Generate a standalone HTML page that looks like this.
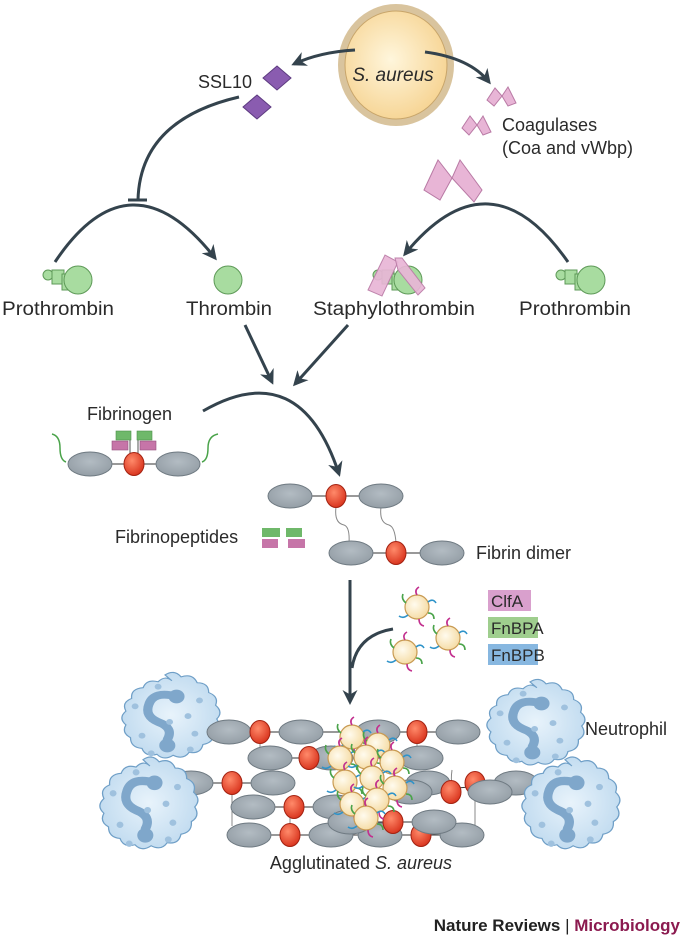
<!DOCTYPE html>
<html><head><meta charset="utf-8"><style>
html,body{margin:0;padding:0;background:#fff;}
svg{display:block;}
text{font-family:"Liberation Sans",sans-serif;fill:#2a2a2a;}
</style></head><body>
<svg width="685" height="941" viewBox="0 0 685 941" xmlns="http://www.w3.org/2000/svg">
<defs>
<radialGradient id="sa" cx="0.45" cy="0.45" r="0.6"><stop offset="0" stop-color="#fff6dc"/><stop offset="1" stop-color="#f6d391"/></radialGradient>
<radialGradient id="red" cx="0.4" cy="0.35" r="0.7"><stop offset="0" stop-color="#ff8a6a"/><stop offset="1" stop-color="#d7301a"/></radialGradient>
<radialGradient id="grey" cx="0.5" cy="0.4" r="0.7"><stop offset="0" stop-color="#b3bcc3"/><stop offset="1" stop-color="#8f99a1"/></radialGradient>
<radialGradient id="neu" cx="0.5" cy="0.5" r="0.6"><stop offset="0" stop-color="#e8f3fb"/><stop offset="1" stop-color="#bcd8ee"/></radialGradient>
<radialGradient id="ball" cx="0.4" cy="0.4" r="0.7"><stop offset="0" stop-color="#fffbee"/><stop offset="1" stop-color="#f4d89c"/></radialGradient>
<marker id="ah" viewBox="0 0 10 10" refX="8" refY="5" markerWidth="5" markerHeight="5" orient="auto"><path d="M0,0 L10,5 L0,10 L3,5 z" fill="#34434d"/></marker>
<g id="ell"><ellipse rx="22" ry="12" fill="url(#grey)" stroke="#6f7a82" stroke-width="1"/></g>
<g id="rd"><ellipse rx="10" ry="11.5" fill="url(#red)" stroke="#a42312" stroke-width="1"/></g>
<g id="b"><circle r="12" fill="url(#ball)" stroke="#c89a52" stroke-width="1.2"/></g>
<g id="bh">
<circle r="12" fill="url(#ball)" stroke="#c89a52" stroke-width="1.2"/>
<path d="M0,-12 q-3,-5 2,-8" stroke="#c2308e" stroke-width="1.6" fill="none"/>
<path d="M11,-5 q5,-4 8,1" stroke="#2e93c9" stroke-width="1.6" fill="none"/>
<path d="M11,6 q6,0 6,6" stroke="#4aa34a" stroke-width="1.6" fill="none"/>
<path d="M2,12 q0,6 5,7" stroke="#c2308e" stroke-width="1.6" fill="none"/>
<path d="M-9,8 q-5,4 -9,1" stroke="#2e93c9" stroke-width="1.6" fill="none"/>
<path d="M-11,-4 q-5,-4 -3,-9" stroke="#4aa34a" stroke-width="1.6" fill="none"/>
</g>
<g id="pro">
<circle cx="-22" cy="-5" r="5" fill="#a8dca0" stroke="#5e9a58"/>
<rect x="-18" y="-10" width="12" height="14" fill="#a8dca0" stroke="#5e9a58"/>
<rect x="-8" y="-6" width="12" height="16" fill="#a8dca0" stroke="#5e9a58"/>
<circle cx="8" cy="0" r="14" fill="#a8dca0" stroke="#5e9a58"/>
</g>
<g id="neut">
<path d="M0,-46 q8,-6 14,2 q10,-4 14,6 q10,0 10,10 q9,4 6,13 q7,7 1,14 q5,9 -3,14 q1,10 -9,12 q-2,10 -12,8 q-5,8 -14,3 q-8,6 -14,-1 q-10,3 -13,-6 q-10,-1 -10,-11 q-8,-5 -4,-13 q-7,-7 0,-14 q-4,-9 5,-13 q-1,-10 10,-11 q3,-9 13,-6 q6,-7 12,-1z" fill="url(#neu)" stroke="#6f9fc7" stroke-width="1.1"/>
<path d="M10,-24 q-20,-6 -24,8 q-4,12 8,18 q14,6 8,18" stroke="#7fa7cb" stroke-width="8" fill="none" stroke-linecap="round"/>
<circle cx="10" cy="-24" r="7" fill="#7fa7cb"/><circle cx="2" cy="26" r="7" fill="#7fa7cb"/>
<g fill="#9fc1de"><circle cx="-26" cy="-14" r="3"/><circle cx="-20" cy="16" r="3"/><circle cx="20" cy="-4" r="3"/><circle cx="26" cy="14" r="3"/><circle cx="-6" cy="-34" r="3"/><circle cx="22" cy="30" r="3"/><circle cx="-12" cy="34" r="3"/><circle cx="4" cy="2" r="3"/><circle cx="30" cy="-20" r="3"/></g>
</g>
</defs>

<ellipse cx="396" cy="65" rx="58" ry="61" fill="#d9c49e"/>
<ellipse cx="396" cy="65" rx="51" ry="54" fill="url(#sa)" stroke="#c8a56a" stroke-width="1"/>
<text x="393" y="81" font-size="19" font-style="italic" text-anchor="middle">S. aureus</text>

<path d="M355,50 Q320,52 294,64" stroke="#34434d" stroke-width="3" fill="none" marker-end="url(#ah)"/>
<path d="M425,52 Q470,58 489,82" stroke="#34434d" stroke-width="3" fill="none" marker-end="url(#ah)"/>

<text x="198" y="88" font-size="18">SSL10</text>
<path d="M277,66 L291,78 L277,90 L263,78z" fill="#8a5cb0" stroke="#5d3b80"/>
<path d="M257,95 L271,107 L257,119 L243,107z" fill="#8a5cb0" stroke="#5d3b80"/>

<g fill="#e8b5d6" stroke="#b97aa5" stroke-width="1">
<path d="M487,100 L495,88 L502,96 L494,106z"/><path d="M502,96 L508,87 L516,103 L508,106z"/>
<path d="M462,128 L470,116 L477,125 L469,135z"/><path d="M477,125 L483,116 L491,132 L483,135z"/>
<path d="M424,190 L438,160 L452,178 L440,200z"/><path d="M452,178 L460,160 L482,190 L474,202z"/>
</g>
<text x="502" y="131" font-size="18">Coagulases</text>
<text x="502" y="154" font-size="18">(Coa and vWbp)</text>

<path d="M239,97 Q140,120 138,200" stroke="#34434d" stroke-width="3" fill="none"/>
<line x1="128" y1="200" x2="147" y2="200" stroke="#34434d" stroke-width="3"/>
<path d="M55,262 Q130,150 215,258" stroke="#34434d" stroke-width="3" fill="none" marker-end="url(#ah)"/>
<path d="M568,262 Q490,150 405,254" stroke="#34434d" stroke-width="3" fill="none" marker-end="url(#ah)"/>

<use href="#pro" x="70" y="280"/>
<circle cx="228" cy="280" r="14" fill="#a8dca0" stroke="#5e9a58"/>
<use href="#pro" x="400" y="280"/>
<g fill="#e8b5d6" stroke="#b97aa5" stroke-opacity="0.9" fill-opacity="0.92">
<path d="M368,290 L385,255 L398,262 L382,296z"/><path d="M395,258 L402,258 L425,288 L418,295 L398,270z"/>
</g>
<use href="#pro" x="583" y="280"/>

<g font-size="19" text-anchor="middle">
<text x="58" y="315" textLength="112" lengthAdjust="spacingAndGlyphs">Prothrombin</text>
<text x="229" y="315" textLength="86" lengthAdjust="spacingAndGlyphs">Thrombin</text>
<text x="394" y="315" textLength="162" lengthAdjust="spacingAndGlyphs">Staphylothrombin</text>
<text x="575" y="315" textLength="112" lengthAdjust="spacingAndGlyphs">Prothrombin</text>
</g>

<path d="M245,325 L272,382" stroke="#34434d" stroke-width="3" fill="none" marker-end="url(#ah)"/>
<path d="M348,325 L295,384" stroke="#34434d" stroke-width="3" fill="none" marker-end="url(#ah)"/>

<text x="87" y="420" font-size="18">Fibrinogen</text>
<path d="M203,411 Q300,355 339,474" stroke="#34434d" stroke-width="3" fill="none" marker-end="url(#ah)"/>
<line x1="90" y1="464" x2="178" y2="464" stroke="#333" stroke-width="1"/>
<path d="M66,462 q-6,-2 -6,-14 q0,-12 -8,-14" stroke="#4aa34a" stroke-width="1.5" fill="none"/>
<path d="M202,462 q6,-2 6,-14 q0,-12 10,-14" stroke="#4aa34a" stroke-width="1.5" fill="none"/>
<use href="#ell" x="90" y="464"/><use href="#ell" x="178" y="464"/>
<line x1="130" y1="440" x2="130" y2="455" stroke="#555"/><line x1="138" y1="440" x2="138" y2="455" stroke="#555"/>
<rect x="116" y="431" width="15" height="9" fill="#6fb86a" stroke="#4e8f4a" stroke-width="0.6"/>
<rect x="137" y="431" width="15" height="9" fill="#6fb86a" stroke="#4e8f4a" stroke-width="0.6"/>
<rect x="112" y="441" width="16" height="9" fill="#c675a8" stroke="#94507d" stroke-width="0.6"/>
<rect x="140" y="441" width="16" height="9" fill="#c675a8" stroke="#94507d" stroke-width="0.6"/>
<use href="#rd" x="134" y="464"/>

<line x1="290" y1="496" x2="381" y2="496" stroke="#333"/>
<line x1="351" y1="553" x2="442" y2="553" stroke="#333"/>
<path d="M336,507 q-2,16 8,18 q6,2 5,18" stroke="#888" fill="none"/>
<path d="M381,507 q-2,16 8,18 q6,2 7,18" stroke="#888" fill="none"/>
<use href="#ell" x="290" y="496"/><use href="#ell" x="381" y="496"/><use href="#rd" x="336" y="496"/>
<use href="#ell" x="351" y="553"/><use href="#ell" x="442" y="553"/><use href="#rd" x="396" y="553"/>
<text x="115" y="543" font-size="18">Fibrinopeptides</text>
<rect x="262" y="528" width="18" height="9" fill="#6fb86a"/><rect x="286" y="528" width="16" height="9" fill="#6fb86a"/>
<rect x="262" y="539" width="16" height="9" fill="#c675a8"/><rect x="288" y="539" width="17" height="9" fill="#c675a8"/>
<text x="476" y="559" font-size="18">Fibrin dimer</text>

<path d="M350,580 L350,702" stroke="#34434d" stroke-width="3" fill="none" marker-end="url(#ah)"/>
<path d="M393,629 Q357,635 352,668" stroke="#34434d" stroke-width="3" fill="none"/>
<use href="#bh" x="417" y="607"/><use href="#bh" x="448" y="638"/><use href="#bh" x="405" y="652"/>
<rect x="488" y="590" width="43" height="21" fill="#d9a0cd"/><text x="491" y="607" font-size="17">ClfA</text>
<rect x="488" y="617" width="50" height="21" fill="#9fce8e"/><text x="491" y="634" font-size="17">FnBPA</text>
<rect x="488" y="644" width="50" height="21" fill="#87b7e0"/><text x="491" y="661" font-size="17">FnBPB</text>

<use href="#neut" transform="translate(165,720) scale(1.15,0.98)"/>
<use href="#neut" transform="translate(530,727) scale(1.15,0.98)"/>

<g stroke="#333" stroke-width="1">
<line x1="229" y1="732" x2="458" y2="732"/><line x1="270" y1="758" x2="421" y2="758"/>
<line x1="191" y1="783" x2="273" y2="783"/><line x1="410" y1="792" x2="516" y2="783"/>
<line x1="253" y1="807" x2="335" y2="807"/><line x1="350" y1="822" x2="434" y2="822"/>
<line x1="249" y1="835" x2="462" y2="835"/>
</g>
<g stroke="#888" fill="none"><path d="M232,786 v40"/><path d="M260,735 v20"/><path d="M417,735 v18"/><path d="M475,786 v40"/><path d="M290,810 v20"/><path d="M452,770 q-3,20 8,22"/></g>
<use href="#ell" x="229" y="732"/><use href="#ell" x="301" y="732"/><use href="#ell" x="378" y="732"/><use href="#ell" x="458" y="732"/>
<use href="#rd" x="260" y="732"/><use href="#rd" x="417" y="732"/>
<use href="#ell" x="270" y="758"/><use href="#ell" x="331" y="758"/><use href="#ell" x="421" y="758"/><use href="#rd" x="309" y="758"/>
<use href="#ell" x="191" y="783"/><use href="#ell" x="273" y="783"/><use href="#ell" x="428" y="783"/><use href="#ell" x="516" y="783"/>
<use href="#rd" x="232" y="783"/><use href="#rd" x="475" y="783"/>
<use href="#ell" x="410" y="792"/><use href="#ell" x="490" y="792"/><use href="#rd" x="451" y="792"/>
<use href="#ell" x="253" y="807"/><use href="#ell" x="335" y="807"/><use href="#rd" x="294" y="807"/>
<use href="#ell" x="249" y="835"/><use href="#ell" x="331" y="835"/><use href="#ell" x="380" y="835"/><use href="#ell" x="462" y="835"/>
<use href="#rd" x="290" y="835"/><use href="#rd" x="421" y="835"/>
<use href="#ell" x="350" y="822"/><use href="#ell" x="434" y="822"/><use href="#rd" x="393" y="822"/>

<use href="#bh" x="352" y="737"/><use href="#bh" x="378" y="745"/>
<use href="#bh" x="340" y="758"/><use href="#bh" x="366" y="757"/><use href="#bh" x="392" y="762"/>
<use href="#bh" x="345" y="782"/><use href="#bh" x="372" y="778"/><use href="#bh" x="395" y="788"/>
<use href="#bh" x="352" y="804"/><use href="#bh" x="377" y="800"/><use href="#bh" x="366" y="818"/>

<use href="#neut" transform="translate(143,808) scale(1.15,1.05)"/>
<use href="#neut" transform="translate(565,808) scale(1.15,1.05)"/>

<text x="585" y="735" font-size="18">Neutrophil</text>
<text x="361" y="869" font-size="18" text-anchor="middle">Agglutinated <tspan font-style="italic">S. aureus</tspan></text>

<text x="680" y="931" font-size="17" font-weight="bold" text-anchor="end"><tspan fill="#222">Nature Reviews</tspan><tspan fill="#222" font-weight="normal"> | </tspan><tspan fill="#8b1a4f">Microbiology</tspan></text>
</svg>
</body></html>
